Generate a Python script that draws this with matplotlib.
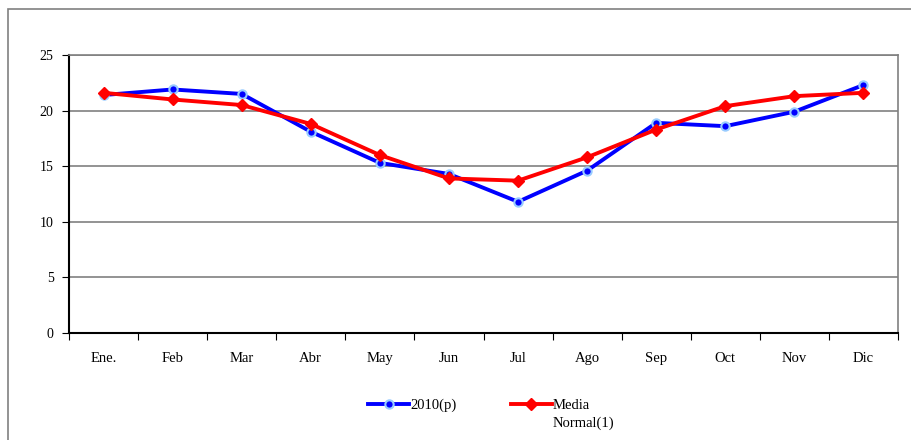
import matplotlib
matplotlib.use("Agg")
import matplotlib.pyplot as plt
from matplotlib.patches import Rectangle
import numpy as np

months = ["Ene.", "Feb", "Mar", "Abr", "May", "Jun", "Jul", "Ago", "Sep", "Oct", "Nov", "Dic"]
serie_2010 = [21.4, 21.9, 21.5, 18.1, 15.3, 14.3, 11.8, 14.6, 18.9, 18.6, 19.9, 22.3]
media_normal = [21.6, 21.0, 20.5, 18.8, 16.0, 13.9, 13.7, 15.8, 18.3, 20.4, 21.3, 21.6]
yticks = [0, 5, 10, 15, 20, 25]

plt.rcParams['font.family'] = ['Liberation Serif', 'DejaVu Serif']

fig = plt.figure(figsize=(9.11, 4.40), dpi=100)
# outer border
fig.patches.append(Rectangle((8/911, -0.05), 1.2, 1 - 9/440 + 0.05, transform=fig.transFigure,
                             fill=False, edgecolor='#808080', linewidth=1.2))

ax = fig.add_axes([69/911, (440-333)/440, (898-69)/911, (333-55)/440])
x = np.arange(len(months))

ax.plot(x, serie_2010, color='#0000FF', linewidth=2.8, marker='o', markersize=6,
        markerfacecolor='#0000FF', markeredgecolor='#99CCFF', markeredgewidth=1.5,
        label='2010(p)', zorder=3)
ax.plot(x, media_normal, color='#FF0000', linewidth=2.8, marker='D', markersize=6,
        markerfacecolor='#FF0000', markeredgecolor='#FF0000',
        label='Media', zorder=4)

ax.set_xlim(-0.5, len(months) - 0.5)
ax.set_ylim(0, 25)
ax.set_yticks(yticks)
ax.set_yticklabels([str(v) for v in yticks], fontsize=10)
ax.yaxis.grid(True, color='#808080', linewidth=1.2)
ax.set_axisbelow(True)

ax.set_xticks(np.arange(len(months) + 1) - 0.5)
ax.set_xticklabels([])
ax.set_xticks(x, minor=True)
ax.set_xticklabels(months, minor=True, fontsize=10.5)
ax.tick_params(axis='x', which='minor', length=0, pad=14)
ax.tick_params(axis='x', which='major', length=5, direction='out', color='black')
ax.tick_params(axis='y', length=5, direction='out', color='black', pad=6)

ax.spines['left'].set_color('black')
ax.spines['bottom'].set_color('black')
ax.spines['left'].set_linewidth(1.5)
ax.spines['bottom'].set_linewidth(1.5)
ax.spines['top'].set_color('#808080')
ax.spines['right'].set_color('#808080')
ax.spines['top'].set_linewidth(1.2)
ax.spines['right'].set_linewidth(1.2)

leg = ax.legend(loc='upper center', bbox_to_anchor=(450/829 - 0.048, -0.189), ncol=2,
                frameon=False, fontsize=10.5, handlelength=2.8, columnspacing=3.7,
                handletextpad=0.1)

fig.canvas.draw()
t = leg.get_texts()[1]
bb = t.get_window_extent(renderer=fig.canvas.get_renderer())
fig.text(bb.x0 / fig.bbox.width, (bb.y0 - 18) / fig.bbox.height, "Normal(1)",
         fontsize=10.5, ha='left', va='bottom')

fig.savefig("out.png", dpi=100)
